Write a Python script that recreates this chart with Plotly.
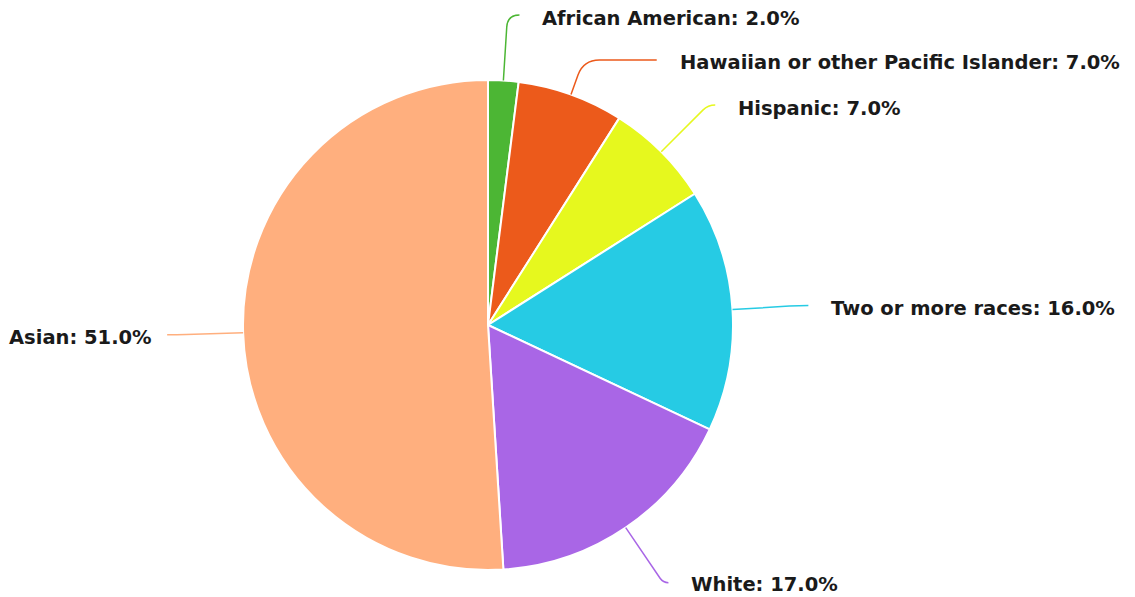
import math
import plotly.graph_objects as go

# ---- data ----
categories = ["African American", "Hawaiian or other Pacific Islander", "Hispanic",
              "Two or more races", "White", "Asian"]
values = [2.0, 7.0, 7.0, 16.0, 17.0, 51.0]
colors = ["#4cb634", "#ec5a1b", "#e6f81e", "#26cbe4", "#a966e6", "#ffaf7e"]

# ---- layout geometry (page pixels) ----
PAGE_W, PAGE_H = 1135, 597
OFF = 8                      # default body margin of the html page
W, H = PAGE_W - OFF, PAGE_H - OFF
CX, CY, R = 488, 325, 245
RX, RY = 321, 311.5          # ellipse on which leader lines end
TOP_MIN = 15
GAP = 45
PAD_RIGHT = 21
PAD_LEFT = 13
FONT_SIZE = 19.5


def px(x):
    return (x - OFF) / W


def py(y):
    return 1 - (y - OFF) / H


fig = go.Figure(go.Pie(
    labels=categories, values=values, sort=False, direction="clockwise", rotation=0,
    marker=dict(colors=colors, line=dict(color="white", width=2)),
    textinfo="none", hoverinfo="label+percent", showlegend=False,
    domain=dict(x=[px(CX - R), px(CX + R)], y=[py(CY + R), py(CY - R)]),
))

total = sum(values)
items = []
cum = 0.0
for name, v, c in zip(categories, values, colors):
    th = math.radians(360 * (cum + v / 2) / total)
    cum += v
    s, co = math.sin(th), math.cos(th)
    items.append(dict(name=name, v=v, c=c, s=s, co=co,
                      p0=(CX + R * s, CY - R * co),
                      ynat=CY - RY * co, side=1 if s >= 0 else -1))

for side in (1, -1):
    grp = sorted([it for it in items if it["side"] == side], key=lambda d: d["ynat"])
    prev = None
    for it in grp:
        y = max(it["ynat"], TOP_MIN)
        if prev is not None:
            y = max(y, prev + GAP)
        it["y"] = y
        prev = y

shapes, annotations = [], []
for it in items:
    y = it["y"]
    side = it["side"]
    dy = y - CY
    xe = CX + side * RX * math.sqrt(max(1 - (dy / RY) ** 2, 0))
    x0, y0 = it["p0"]
    dxr, dyr = it["s"], -it["co"]
    if abs(dyr) > 1e-6:
        t = (y - y0) / dyr
    else:
        t = 30
    t = max(min(t, 120), 5)
    bx = x0 + t * dxr
    by = y
    hlen = (xe - bx) * side
    if hlen < 0:
        bx = xe
        hlen = 0
    k = min(16, t * 0.5, max(hlen, 0.5))
    p1 = (bx - k * dxr, by - k * dyr)
    p2 = (bx + side * k, y)
    path = (f"M {px(x0)},{py(y0)} L {px(p1[0])},{py(p1[1])} "
            f"Q {px(bx)},{py(by)} {px(p2[0])},{py(p2[1])} L {px(xe)},{py(y)}")
    shapes.append(dict(type="path", path=path, xref="paper", yref="paper",
                       line=dict(color=it["c"], width=1.5)))
    ty = min(max(y + 3, 19), 584)
    annotations.append(dict(
        x=px(xe + (PAD_RIGHT if side == 1 else -PAD_LEFT)), y=py(ty),
        xref="paper", yref="paper",
        xanchor="left" if side == 1 else "right", yanchor="middle",
        text=f"{it['name']}: {it['v'] / total * 100:.1f}%", showarrow=False,
        font=dict(family="DejaVu Sans", size=FONT_SIZE, color="#1a1a1a", weight="bold"),
    ))

fig.update_layout(
    width=W, height=H, margin=dict(l=0, r=0, t=0, b=0),
    paper_bgcolor="white", plot_bgcolor="white",
    shapes=shapes, annotations=annotations,
)

fig.write_html("out.html")
